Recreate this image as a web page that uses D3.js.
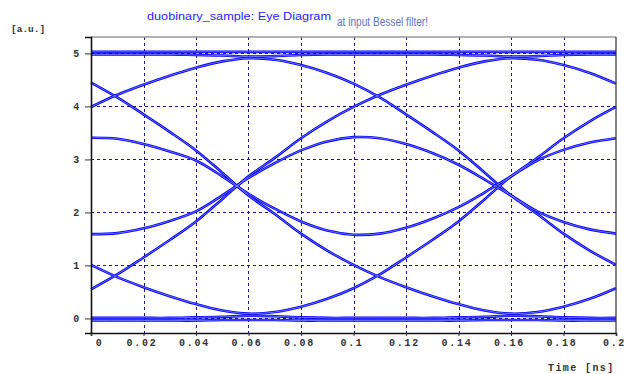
<!DOCTYPE html>
<html>
<head>
<meta charset="utf-8">
<script src="https://cdn.jsdelivr.net/npm/d3@7"></script>
<style>
  html, body { margin: 0; padding: 0; background: #fff; }
  .tick text { font-family: "Liberation Mono", monospace; font-weight: bold; font-size: 10px; letter-spacing: 1.7px; fill: #333; }
</style>
</head>
<body>
<svg id="chart" width="637" height="374"></svg>
<script>
// time grid (ns) shared by every trace
const timeNs = [0, 0.01, 0.02, 0.03, 0.04, 0.05, 0.06, 0.07, 0.08, 0.09, 0.1,
  0.11, 0.12, 0.13, 0.14, 0.15, 0.16, 0.17, 0.18, 0.19, 0.2];

// eye traces [a.u.]
const riseFall = [3.99, 4.22, 4.41, 4.58, 4.73, 4.85, 4.91, 4.88, 4.78, 4.63, 4.43,
  4.17, 3.85, 3.52, 3.17, 2.75, 2.32, 1.97, 1.60, 1.28, 1.01];
const slowRise = [0.55, 0.83, 1.15, 1.48, 1.83, 2.25, 2.68, 3.03, 3.40, 3.72, 3.99,
  4.22, 4.41, 4.58, 4.73, 4.85, 4.91, 4.88, 4.78, 4.63, 4.43];
const slowFall = [4.45, 4.17, 3.85, 3.52, 3.17, 2.75, 2.32, 1.97, 1.60, 1.28, 1.01,
  0.78, 0.59, 0.42, 0.27, 0.15, 0.09, 0.12, 0.22, 0.37, 0.57];
const fallRise = [1.01, 0.78, 0.59, 0.42, 0.27, 0.15, 0.09, 0.12, 0.22, 0.37, 0.57,
  0.83, 1.15, 1.48, 1.83, 2.25, 2.68, 3.03, 3.40, 3.72, 3.99];
const innerUp = [1.59, 1.61, 1.70, 1.84, 2.02, 2.32, 2.65, 2.93, 3.17, 3.34, 3.42,
  3.40, 3.29, 3.12, 2.90, 2.62, 2.32, 2.02, 1.82, 1.68, 1.60];
const innerDown = [3.41, 3.39, 3.29, 3.15, 2.98, 2.68, 2.35, 2.07, 1.83, 1.66, 1.58,
  1.60, 1.71, 1.88, 2.10, 2.38, 2.68, 2.98, 3.18, 3.32, 3.40];
const topHi = [5.03, 5.03, 5.03, 5.03, 5.03, 5.03, 5.03, 5.03, 5.03, 5.03, 5.03,
  5.03, 5.03, 5.03, 5.03, 5.03, 5.03, 5.03, 5.03, 5.03, 5.03];
const topLo = [4.98, 4.98, 4.98, 4.98, 4.97, 4.96, 4.94, 4.95, 4.97, 4.98, 4.98,
  4.98, 4.98, 4.98, 4.97, 4.96, 4.94, 4.95, 4.97, 4.98, 4.98];
const botHi = [0.01, 0.01, 0.01, 0.01, 0.02, 0.03, 0.05, 0.04, 0.02, 0.01, 0.01,
  0.01, 0.01, 0.01, 0.02, 0.03, 0.05, 0.04, 0.02, 0.01, 0.01];
const botLo = [-0.04, -0.04, -0.04, -0.04, -0.04, -0.03, -0.03, -0.03, -0.04, -0.04, -0.04,
  -0.04, -0.04, -0.04, -0.04, -0.03, -0.03, -0.03, -0.04, -0.04, -0.04];

const traces = [topHi, topLo, botHi, botLo, riseFall, slowRise, slowFall, fallRise, innerUp, innerDown];

const xTicks = [0, 0.02, 0.04, 0.06, 0.08, 0.1, 0.12, 0.14, 0.16, 0.18, 0.2];
const yTicks = [0, 1, 2, 3, 4, 5];

const margin = {top: 37, right: 21, bottom: 41, left: 91};
const width = 637, height = 374;

const svg = d3.select('#chart');

const x = d3.scaleLinear()
  .domain([0, 0.2])
  .range([margin.left, width - margin.right]);
const y = d3.scaleLinear()
  .domain([-0.275, 5.31])
  .range([height - margin.bottom, margin.top]);

// grid
const grid = svg.append('g')
  .attr('stroke', '#1a1a80')
  .attr('stroke-width', 1)
  .attr('stroke-dasharray', '3,3');
grid.selectAll('line.v')
  .data(xTicks.slice(1, -1))
  .join('line')
  .attr('class', 'v')
  .attr('x1', d => Math.round(x(d)) + 0.5)
  .attr('x2', d => Math.round(x(d)) + 0.5)
  .attr('y1', margin.top)
  .attr('y2', height - margin.bottom);
grid.selectAll('line.h')
  .data(yTicks)
  .join('line')
  .attr('class', 'h')
  .attr('x1', margin.left)
  .attr('x2', width - margin.right)
  .attr('y1', d => Math.round(y(d)) + 0.5)
  .attr('y2', d => Math.round(y(d)) + 0.5);

// traces: each drawn as a thin doubled line
const line = d3.line()
  .x((d, i) => x(timeNs[i]))
  .y(d => y(d))
  .curve(d3.curveCatmullRom.alpha(0.5));

const traceG = svg.append('g').attr('fill', 'none');
traceG.selectAll('path.outer')
  .data(traces)
  .join('path')
  .attr('class', 'outer')
  .attr('stroke', '#0000ff')
  .attr('stroke-width', 2.6)
  .attr('d', line);
traceG.selectAll('path.inner')
  .data(traces)
  .join('path')
  .attr('class', 'inner')
  .attr('stroke', '#9a9cff')
  .attr('stroke-width', 0.7)
  .attr('d', line);

// frame
svg.append('line')
  .attr('x1', margin.left).attr('x2', width - margin.right)
  .attr('y1', margin.top).attr('y2', margin.top)
  .attr('stroke', '#999').attr('stroke-width', 1.5);
svg.append('line')
  .attr('x1', width - margin.right).attr('x2', width - margin.right)
  .attr('y1', margin.top).attr('y2', height - margin.bottom)
  .attr('stroke', '#333').attr('stroke-width', 1.2);

// axes
svg.append('g')
  .attr('transform', `translate(0,${height - margin.bottom})`)
  .call(d3.axisBottom(x).tickValues(xTicks).tickSize(3).tickPadding(3)
    .tickFormat(d => String(+d.toFixed(2))))
  .call(g => g.select('.domain').attr('stroke', '#111').attr('stroke-width', 1.6))
  .call(g => g.selectAll('.tick text').attr('dx', (d, i) => i === 0 ? 8 : -2));

svg.append('g')
  .attr('transform', `translate(${margin.left},0)`)
  .call(d3.axisLeft(y).tickValues(yTicks).tickSize(6).tickPadding(4).tickFormat(d3.format('d')))
  .call(g => g.select('.domain').attr('stroke', '#111').attr('stroke-width', 1.6));

svg.selectAll('.tick line').attr('stroke', '#333');

// labels
svg.append('text')
  .attr('x', 11).attr('y', 32)
  .attr('font-family', 'Liberation Mono, monospace')
  .attr('font-weight', 'bold')
  .attr('font-size', 9.5)
  .attr('fill', '#333')
  .text('[a.u.]');

svg.append('text')
  .attr('x', 548).attr('y', 371)
  .attr('font-family', 'Liberation Mono, monospace')
  .attr('font-weight', 'bold')
  .attr('font-size', 10)
  .attr('letter-spacing', 1.4)
  .attr('fill', '#333')
  .text('Time [ns]');

svg.append('text')
  .attr('x', 147).attr('y', 19.5)
  .attr('font-family', 'Liberation Sans, Arial, sans-serif')
  .attr('font-size', 11.5)
  .attr('textLength', 184)
  .attr('lengthAdjust', 'spacingAndGlyphs')
  .attr('fill', '#2626ff')
  .text('duobinary_sample: Eye Diagram');

svg.append('text')
  .attr('x', 337).attr('y', 25.5)
  .attr('font-family', 'Liberation Sans Narrow, Liberation Sans, sans-serif')
  .attr('font-size', 12.5)
  .attr('textLength', 91)
  .attr('lengthAdjust', 'spacingAndGlyphs')
  .attr('fill', '#6274c0')
  .text('at  input Bessel filter!');
</script>
</body>
</html>
